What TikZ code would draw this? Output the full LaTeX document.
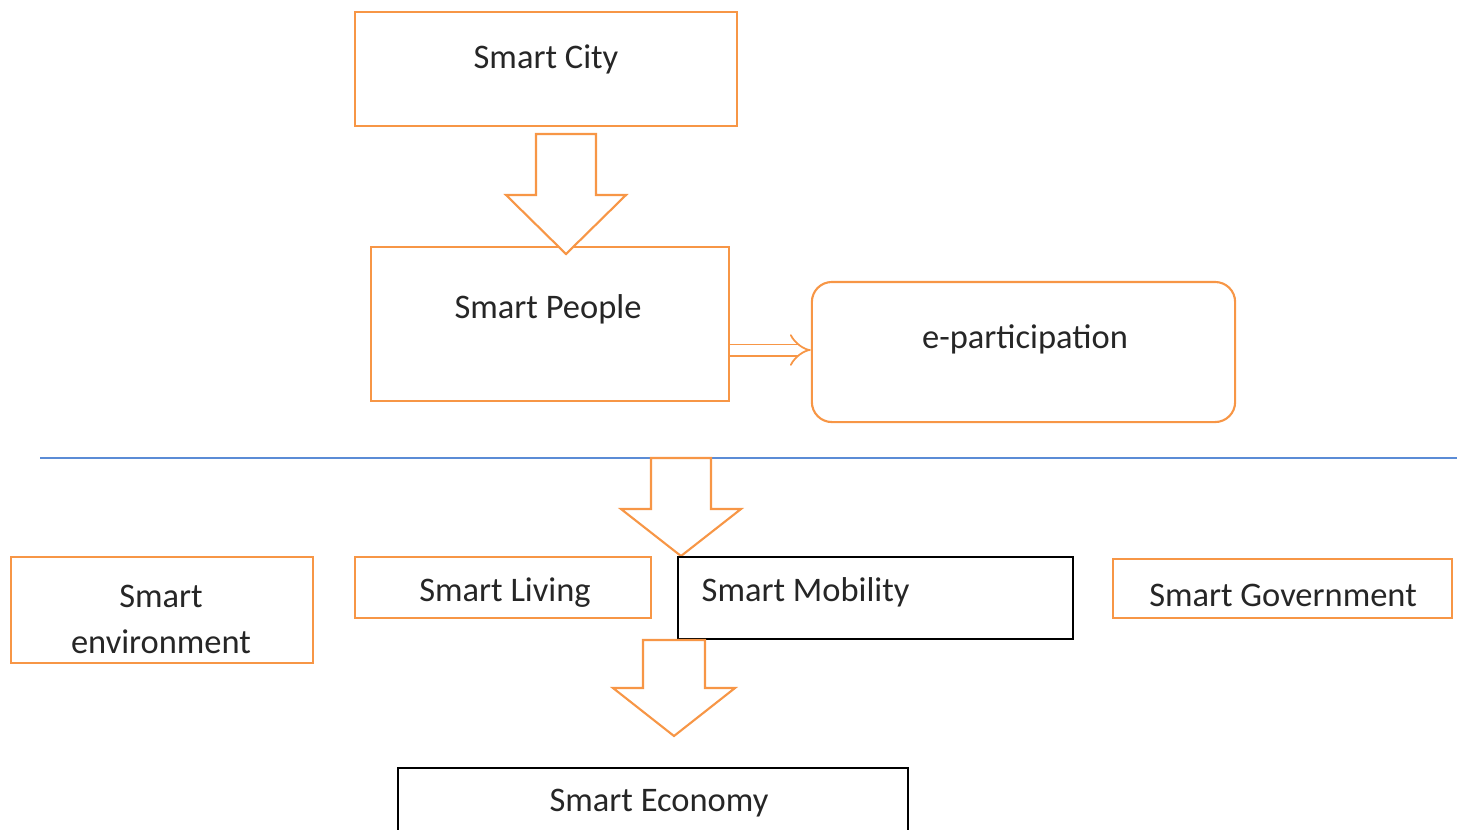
\documentclass[tikz,border=0pt]{standalone}
\usepackage{fontspec}
\setmainfont{Carlito}
\usetikzlibrary{arrows.meta}
\definecolor{org}{RGB}{247,150,70}
\definecolor{blu}{RGB}{91,140,214}
\begin{document}
\begin{tikzpicture}[x=0.01cm,y=-0.01cm,
  obox/.style={draw=org,line width=0.6pt,inner sep=0pt},
  kbox/.style={draw=black,line width=0.7pt,inner sep=0pt},
  txt/.style={inner sep=0pt,yshift=-0.025cm,font=\fontsize{9.8}{12}\selectfont,text=black!85},
  barrow/.style={draw=org,line width=0.6pt,fill=white,line join=miter}]
\useasboundingbox (0,0) rectangle (1457,829);
% top boxes
\node[obox,minimum width=3.82cm,minimum height=1.14cm] (city) at (546,69) {};
\node[txt] (cityt) at (546,57) {Smart City};
\node[obox,minimum width=3.58cm,minimum height=1.54cm] (people) at (550,324) {};
\node[txt] (peoplet) at (548,307) {Smart People};
\node[obox,rounded corners=0.2cm,minimum width=4.23cm,minimum height=1.40cm] (epart) at (1023.5,352) {};
\node[txt] (epartt) at (1025,337) {e-participation};
% double arrow
\draw[org,line width=0.5pt,double=white,double distance=2.7pt,-{Implies[length=2.5pt]}] (people.east|-0,350) -- (epart.west|-0,350);
% blue separator
\draw[blu,line width=0.7pt] (40,458) -- (1457,458);
% block arrow 1
\draw[barrow] (536,134) -- (596,134) -- (596,195) -- (626,195) -- (566,254) -- (506,195) -- (536,195) -- cycle;
% block arrow 2
\draw[barrow] (651,458) -- (711,458) -- (711,509) -- (741,509) -- (681,556) -- (621,509) -- (651,509) -- cycle;
% row boxes
\node[obox,minimum width=3.02cm,minimum height=1.06cm] (env) at (162,610) {};
\node[txt,align=center] (envt) at (161,617) {Smart\\[0.9pt]environment};
\node[obox,minimum width=2.96cm,minimum height=0.61cm] (living) at (503,587.5) {};
\node[txt] (livingt) at (505,590) {Smart Living};
\node[kbox,minimum width=3.95cm,minimum height=0.82cm] (mob) at (875.5,598) {};
\node[txt,anchor=west] (mobt) at (701,590) {Smart Mobility};
\node[obox,minimum width=3.39cm,minimum height=0.59cm] (gov) at (1282.5,588.5) {};
\node[txt] (govt) at (1283,593) {Smart Government};
% block arrow 3
\draw[barrow] (643,640) -- (705,640) -- (705,688) -- (735,688) -- (674,736) -- (613,688) -- (643,688) -- cycle;
% bottom box
\node[kbox,minimum width=5.10cm,minimum height=0.80cm] (econ) at (653,808) {};
\node[txt] (econt) at (659,801) {Smart Economy};
\end{tikzpicture}
\end{document}
